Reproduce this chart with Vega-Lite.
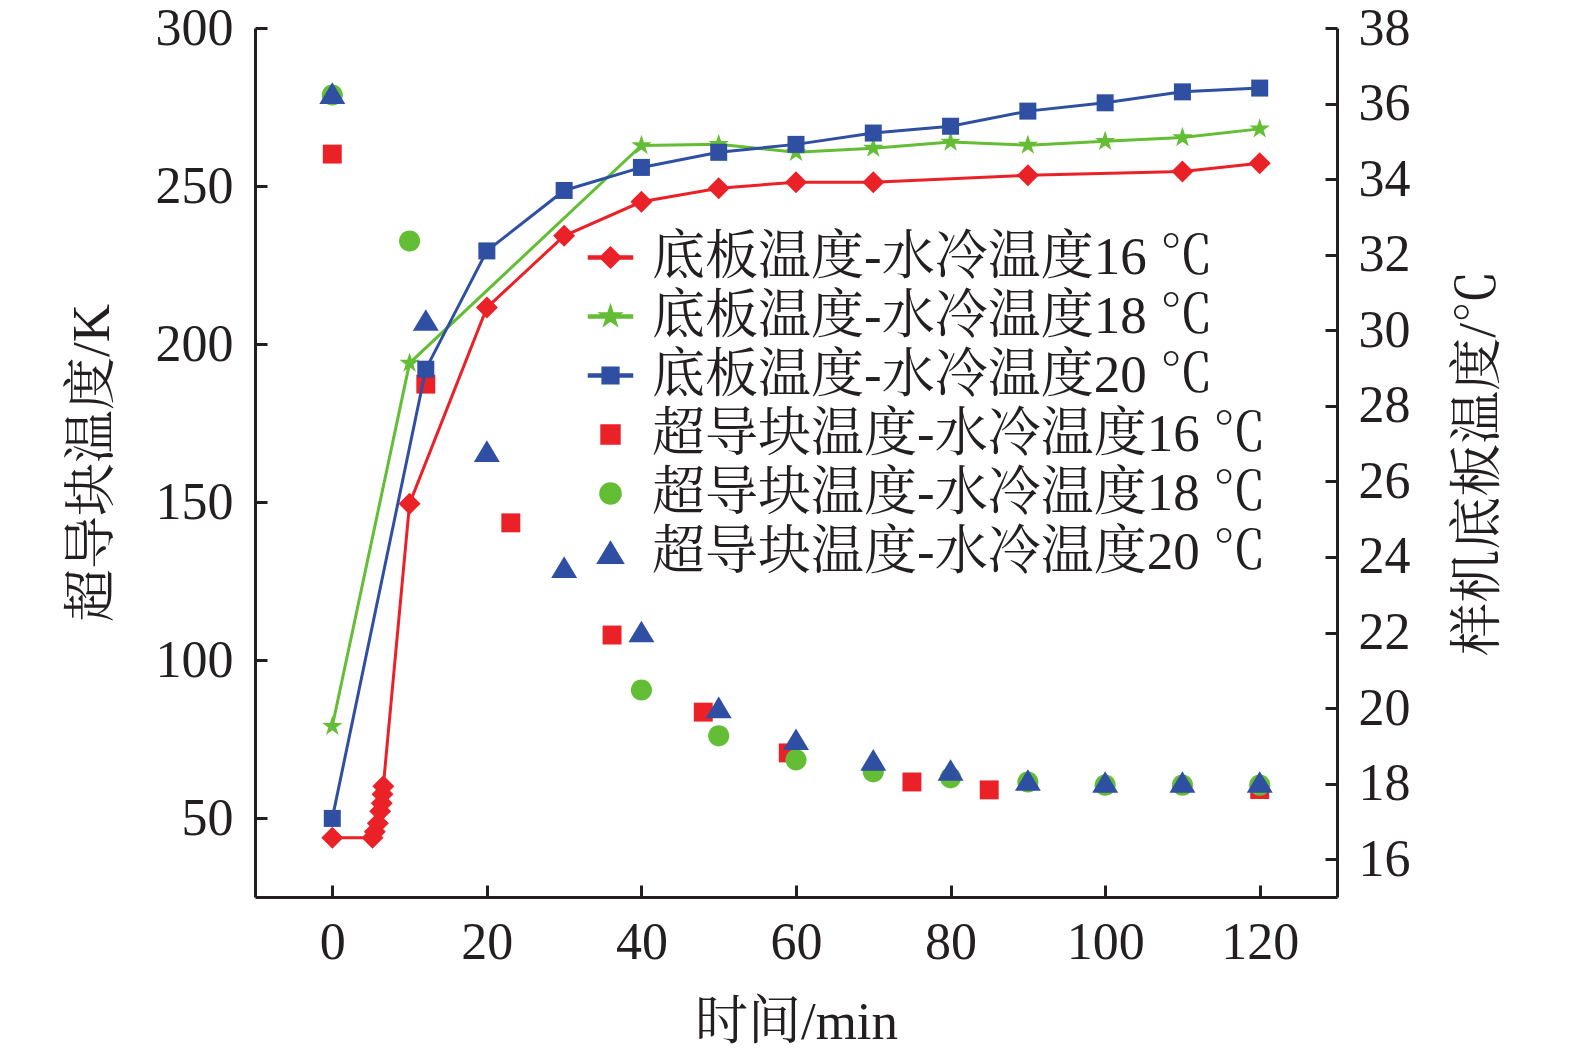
{
  "$schema": "https://vega.github.io/schema/vega-lite/v6.json",
  "width": 1082,
  "height": 869,
  "autosize": {"type": "none"},
  "padding": {"left": 255, "top": 28, "right": 238, "bottom": 157},
  "background": "white",
  "config": {
    "view": {"stroke": null},
    "axis": {
      "grid": false,
      "domainColor": "#231f20",
      "domainWidth": 3,
      "tickColor": "#231f20",
      "tickWidth": 3,
      "tickSize": -12,
      "labelFont": "Liberation Serif",
      "labelFontSize": 52,
      "labelColor": "#231f20",
      "labelFlush": false,
      "labelOverlap": false,
      "titleFont": "Liberation Serif, Noto Serif CJK SC, Noto Sans CJK SC",
      "titleFontSize": 53,
      "titleFontWeight": "normal",
      "titleColor": "#231f20"
    }
  },
  "data": {
    "values": [
      {"s": "P16", "t": 0, "v": 260.1},
      {"s": "P16", "t": 12.1, "v": 187.3},
      {"s": "P16", "t": 23.1, "v": 143.4},
      {"s": "P16", "t": 36.2, "v": 107.9},
      {"s": "P16", "t": 48, "v": 83.5},
      {"s": "P16", "t": 59, "v": 70.6},
      {"s": "P16", "t": 75, "v": 61.4},
      {"s": "P16", "t": 85, "v": 58.9},
      {"s": "P16", "t": 120, "v": 59},
      {"s": "P18", "t": 0, "v": 278.8},
      {"s": "P18", "t": 10, "v": 232.6},
      {"s": "P18", "t": 40, "v": 90.5},
      {"s": "P18", "t": 50, "v": 76},
      {"s": "P18", "t": 60, "v": 68.4},
      {"s": "P18", "t": 70, "v": 64.6},
      {"s": "P18", "t": 80, "v": 62.7},
      {"s": "P18", "t": 90, "v": 61.4},
      {"s": "P18", "t": 100, "v": 60.4},
      {"s": "P18", "t": 110, "v": 60.4},
      {"s": "P18", "t": 120, "v": 60.4},
      {"s": "P20", "t": 0, "v": 279.4},
      {"s": "P20", "t": 12.1, "v": 207.6},
      {"s": "P20", "t": 20, "v": 166.1},
      {"s": "P20", "t": 30, "v": 129.4},
      {"s": "P20", "t": 40, "v": 109},
      {"s": "P20", "t": 50, "v": 85},
      {"s": "P20", "t": 60, "v": 74.9},
      {"s": "P20", "t": 70, "v": 68.4},
      {"s": "P20", "t": 80, "v": 65.2},
      {"s": "P20", "t": 90, "v": 62},
      {"s": "P20", "t": 100, "v": 61.4},
      {"s": "P20", "t": 110, "v": 61.4},
      {"s": "P20", "t": 120, "v": 61.4},
      {"s": "L16", "t": 0, "v": 16.57},
      {"s": "L16", "t": 5.2, "v": 16.57},
      {"s": "L16", "t": 5.5, "v": 16.73},
      {"s": "L16", "t": 5.9, "v": 16.95},
      {"s": "L16", "t": 6.2, "v": 17.27},
      {"s": "L16", "t": 6.4, "v": 17.48},
      {"s": "L16", "t": 6.5, "v": 17.72},
      {"s": "L16", "t": 6.6, "v": 17.93},
      {"s": "L16", "t": 10, "v": 25.41},
      {"s": "L16", "t": 20, "v": 30.6},
      {"s": "L16", "t": 30, "v": 32.5},
      {"s": "L16", "t": 40, "v": 33.4},
      {"s": "L16", "t": 50, "v": 33.76},
      {"s": "L16", "t": 60, "v": 33.92},
      {"s": "L16", "t": 70, "v": 33.92},
      {"s": "L16", "t": 90, "v": 34.1},
      {"s": "L16", "t": 110, "v": 34.2},
      {"s": "L16", "t": 120, "v": 34.42},
      {"s": "L18", "t": 0, "v": 19.52},
      {"s": "L18", "t": 10, "v": 29.13},
      {"s": "L18", "t": 40, "v": 34.89},
      {"s": "L18", "t": 50, "v": 34.92},
      {"s": "L18", "t": 60, "v": 34.71},
      {"s": "L18", "t": 70, "v": 34.82},
      {"s": "L18", "t": 80, "v": 34.98},
      {"s": "L18", "t": 90, "v": 34.9},
      {"s": "L18", "t": 100, "v": 35.0},
      {"s": "L18", "t": 110, "v": 35.1},
      {"s": "L18", "t": 120, "v": 35.33},
      {"s": "L20", "t": 0, "v": 17.08},
      {"s": "L20", "t": 12.1, "v": 28.97},
      {"s": "L20", "t": 20, "v": 32.1},
      {"s": "L20", "t": 30, "v": 33.7},
      {"s": "L20", "t": 40, "v": 34.31},
      {"s": "L20", "t": 50, "v": 34.71},
      {"s": "L20", "t": 60, "v": 34.92},
      {"s": "L20", "t": 70, "v": 35.22},
      {"s": "L20", "t": 80, "v": 35.4},
      {"s": "L20", "t": 90, "v": 35.8},
      {"s": "L20", "t": 100, "v": 36.02},
      {"s": "L20", "t": 110, "v": 36.31},
      {"s": "L20", "t": 120, "v": 36.41}
    ]
  },
  "encoding": {
    "x": {
      "field": "t",
      "type": "quantitative",
      "scale": {"domain": [-10, 130], "nice": false, "zero": false},
      "axis": {"title": "时间/min", "values": [0, 20, 40, 60, 80, 100, 120], "labelPadding": 32, "titlePadding": 28}
    }
  },
  "layer": [
    {
      "transform": [{"filter": {"field": "s", "oneOf": ["P16", "P18", "P20"]}}],
      "mark": {"type": "point", "filled": true, "opacity": 1, "size": 1936},
      "encoding": {
        "y": {
          "field": "v",
          "type": "quantitative",
          "scale": {"domain": [25, 300], "nice": false, "zero": false},
          "axis": {"orient": "left", "title": "超导块温度/K", "values": [50, 100, 150, 200, 250, 300], "labelPadding": 34, "titlePadding": 36}
        },
        "color": {
          "field": "s",
          "type": "nominal",
          "scale": {
            "domain": ["L16", "L18", "L20", "P16", "P18", "P20"],
            "range": ["#eb2128", "#63bd35", "#2f4fa2", "#eb2128", "#63bd35", "#2f4fa2"]
          },
          "legend": {
            "title": null,
            "orient": "none",
            "legendX": 329,
            "legendY": 203,
            "padding": 0,
            "offset": 0,
            "rowPadding": 5,
            "labelOffset": 15,
            "labelLimit": 1000,
            "labelFont": "Liberation Serif, Noto Serif CJK SC, Noto Sans CJK SC",
            "labelFontSize": 53,
            "labelColor": "#231f20",
            "symbolSize": 1936,
            "labelExpr": "['底板温度-水冷温度16 ℃', '底板温度-水冷温度18 ℃', '底板温度-水冷温度20 ℃', '超导块温度-水冷温度16 ℃', '超导块温度-水冷温度18 ℃', '超导块温度-水冷温度20 ℃'][indexof(['L16', 'L18', 'L20', 'P16', 'P18', 'P20'], datum.value)]"
          }
        },
        "shape": {
          "field": "s",
          "type": "nominal",
          "scale": {
            "domain": ["L16", "L18", "L20", "P16", "P18", "P20"],
            "range": [
              "M-1,-0.07H1V0.07H-1ZM-0.48,0L0,-0.48L0.48,0L0,0.48Z",
              "M-1,-0.07H1V0.07H-1ZM0,-0.52L0.117,-0.161L0.495,-0.161L0.189,0.061L0.306,0.421L0,0.199L-0.306,0.421L-0.189,0.061L-0.495,-0.161L-0.117,-0.161Z",
              "M-1,-0.07H1V0.07H-1ZM-0.38,-0.38H0.38V0.38H-0.38Z",
              "M-0.43,-0.43H0.43V0.43H-0.43Z",
              "M-0.48,0A0.48,0.48,0,1,0,0.48,0A0.48,0.48,0,1,0,-0.48,0Z",
              "M0,-0.49L0.59,0.49L-0.59,0.49Z"
            ]
          },
          "legend": null
        }
      }
    },
    {
      "transform": [{"filter": {"field": "s", "oneOf": ["L16", "L18", "L20"]}}],
      "encoding": {
        "y": {
          "field": "v",
          "type": "quantitative",
          "scale": {"domain": [15, 38], "nice": false, "zero": false},
          "axis": {"orient": "right", "title": "样机底板温度/℃", "values": [16, 18, 20, 22, 24, 26, 28, 30, 32, 34, 36, 38], "labelPadding": 33, "titlePadding": 42, "titleAngle": 270, "titleBaseline": "top"}
        },
        "color": {"field": "s", "type": "nominal", "legend": null}
      },
      "layer": [
        {"mark": {"type": "line", "strokeWidth": 3}},
        {
          "transform": [{"filter": "datum.s == 'L16'"}],
          "mark": {"type": "point", "filled": true, "opacity": 1, "shape": "diamond", "size": 484}
        },
        {
          "transform": [{"filter": "datum.s == 'L18'"}],
          "mark": {"type": "point", "filled": true, "opacity": 1, "size": 460, "shape": "M0,-1L0.2245,-0.309L0.951,-0.309L0.3633,0.118L0.5878,0.809L0,0.382L-0.5878,0.809L-0.3633,0.118L-0.951,-0.309L-0.2245,-0.309Z"}
        },
        {
          "transform": [{"filter": "datum.s == 'L20'"}],
          "mark": {"type": "point", "filled": true, "opacity": 1, "shape": "square", "size": 289}
        }
      ]
    }
  ],
  "resolve": {"scale": {"y": "independent"}}
}
